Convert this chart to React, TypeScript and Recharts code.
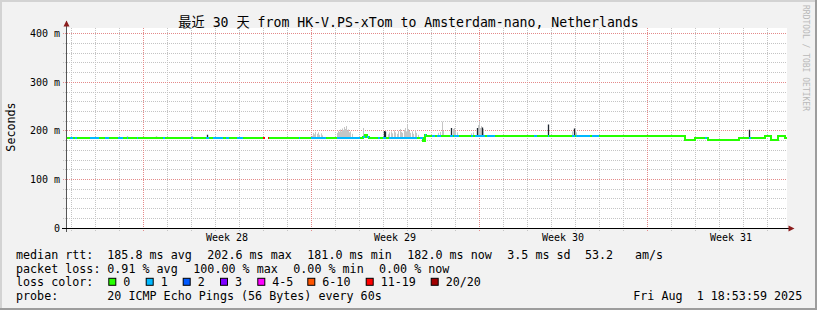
import React from 'react';
import { ComposedChart, Line, XAxis, YAxis, CartesianGrid } from 'recharts';

// ---------------- data (x = hours since the start of the 30-day window, y = ms) ----------------
const medianRuns = [
  { from: 0, to: 198, ms: 184.5 },
  { from: 201, to: 296, ms: 184.5 },
  { from: 296, to: 298, ms: 187 },
  { from: 298, to: 300, ms: 192 },
  { from: 300, to: 302, ms: 187 },
  { from: 302, to: 356, ms: 184.5 },
  { from: 356, to: 358, ms: 180 },
  { from: 358, to: 359, ms: 191 },
  { from: 359, to: 618, ms: 188.5 },
  { from: 618, to: 628, ms: 181.5 },
  { from: 628, to: 641, ms: 184.5 },
  { from: 641, to: 672, ms: 181.5 },
  { from: 672, to: 698, ms: 184.5 },
  { from: 698, to: 704, ms: 188.5 },
  { from: 704, to: 711, ms: 182 },
  { from: 711, to: 718, ms: 188.5 },
  { from: 718, to: 720, ms: 184.5 },
];

const lossRuns = [
  { from: 3, to: 6, loss: '1' }, { from: 8, to: 10, loss: '1' }, { from: 23, to: 32, loss: '1' },
  { from: 38, to: 42, loss: '1' }, { from: 51, to: 56, loss: '1' }, { from: 60, to: 61, loss: '1' },
  { from: 70, to: 71, loss: '1' }, { from: 96, to: 98, loss: '1' }, { from: 124, to: 126, loss: '1' },
  { from: 139, to: 142, loss: '1' }, { from: 146, to: 156, loss: '1' }, { from: 159, to: 162, loss: '1' },
  { from: 170, to: 176, loss: '1' }, { from: 196, to: 198, loss: '11-19' }, { from: 201, to: 202, loss: '11-19' },
  { from: 232, to: 233, loss: '1' }, { from: 244, to: 259, loss: '1' }, { from: 270, to: 293, loss: '1' },
  { from: 296, to: 298, loss: '1' }, { from: 300, to: 302, loss: '1' }, { from: 311, to: 313, loss: '1' },
  { from: 316, to: 319, loss: '1' }, { from: 322, to: 350, loss: '1' }, { from: 353, to: 356, loss: '1' },
  { from: 358, to: 359, loss: '1' }, { from: 365, to: 368, loss: '1' }, { from: 370, to: 374, loss: '1' },
  { from: 383, to: 386, loss: '1' }, { from: 387, to: 392, loss: '1' }, { from: 404, to: 406, loss: '1' },
  { from: 408, to: 418, loss: '1' }, { from: 420, to: 428, loss: '1' }, { from: 467, to: 470, loss: '1' },
  { from: 481, to: 482, loss: '1' }, { from: 505, to: 508, loss: '1' }, { from: 509, to: 523, loss: '1' },
  { from: 525, to: 532, loss: '1' }, { from: 638, to: 640, loss: '1' }, { from: 682, to: 684, loss: '1' },
];

const smokeHours = [
  245, 246, 247, 248, 250, 251, 252, 254, 255,
  270, 271, 272, 273, 274, 275, 276, 277, 278, 279, 280, 281, 282, 283, 285,
  296,
  321, 322, 324, 325, 327, 328, 330, 331, 333, 334, 335, 337, 338, 339, 340, 341, 342, 343, 345, 346, 348, 349, 351,
  371, 373, 375, 376,
  386, 387, 388, 390,
  404, 406,
  411, 412, 413, 414, 416,
  505, 508, 509,
];
const smokeTops = [
  190, 196, 193, 198, 194, 197, 192, 195, 191,
  196, 200, 198, 203, 199, 205, 202, 208, 204, 210, 201, 203, 197, 199, 194,
  206,
  193, 197, 199, 195, 201, 197, 194, 200, 204, 198, 196, 202, 206, 199, 212, 204, 200, 196, 199, 194, 201, 196, 192,
  196, 198, 219, 200,
  204, 206, 200, 197,
  195, 197,
  212, 218, 206, 210, 204,
  199, 203, 197,
];

const spikeHours = [60, 89, 125, 140, 297, 317, 318, 384, 410, 415, 481, 507, 682];
const spikeTops = [188, 188, 188, 192, 191, 200, 199, 206, 206, 207, 213, 205, 202.6];

const yTickValues = [0, 20, 40, 60, 80, 100, 120, 140, 160, 180, 200, 220, 240, 260, 280, 300, 320, 340, 360, 380, 400];
const yLabelValues = [0, 100, 200, 300, 400];
const yLabelTexts = ['0', '100 m', '200 m', '300 m', '400 m'];
const dayStartHours = [4, 28, 52, 76, 100, 124, 148, 172, 196, 220, 244, 268, 292, 316, 340, 364, 388, 412, 436, 460, 484, 508, 532, 556, 580, 604, 628, 652, 676, 700];
const weekStartHours = [76, 244, 412, 580];
const weekCenterHours = [160, 328, 496, 664];
const weekLabels = ['Week 28', 'Week 29', 'Week 30', 'Week 31'];

const titleText = '最近 30 天 from HK-V.PS-xTom to Amsterdam-nano, Netherlands';
const rttStats = ['185.8 ms avg', '202.6 ms max', '181.0 ms min', '182.0 ms now', '3.5 ms sd', '53.2', 'am/s'];
const lossStats = ['0.91 % avg', '100.00 % max', '0.00 % min', '0.00 % now'];
const lossClasses = ['0', '1', '2', '3', '4-5', '6-10', '11-19', '20/20'];
const probeText = '20 ICMP Echo Pings (56 Bytes) every 60s';
const dateText = 'Fri Aug  1 18:53:59 2025';

// ---------------- styles / layout ----------------
const W = 817;
const H = 310;
const MARGIN = { top: 28, right: 30, bottom: 52, left: 0 };
const Y_AXIS_W = 67;
const X_AXIS_H = 30;
const PLOT_L = MARGIN.left + Y_AXIS_W;
const PLOT_R = W - MARGIN.right;
const PLOT_B = H - MARGIN.bottom - X_AXIS_H;
const MONO = "'DejaVu Sans Mono', 'Noto Sans CJK SC', monospace";
const MINOR = '#c4c4c4';
const MAJOR = '#e48a8a';
const ARROW = '#8b1d1d';
const SMOKE = '#c6c6c6';
const SPIKE = '#1e2630';
const LOSS_COLORS: Record<string, string> = {
  '0': '#26ff00', '1': '#00b8ff', '2': '#0059ff', '3': '#7e00ff',
  '4-5': '#ff00ff', '6-10': '#ff5500', '11-19': '#ff0000', '20/20': '#a10000',
};
const RTT_X = [107.3, 207.3, 307.3, 407.3, 507.3, 585, 635];
const LOSS_X = [107.3, 193.3, 293.3, 379];
const SWATCH_X = [108.3, 145.7, 182.7, 220, 257.3, 307.3, 365.7, 430.7];
const ROW_Y = [258.5, 272.5, 286.3, 300];

// ---------------- builders ----------------
type Run = { from: number; to: number; ms: number };
type Pt = { h: number; v: number | null };

const medianAt = (h: number): number => {
  const r = medianRuns.find((m) => m.from <= h && h < m.to) || medianRuns[medianRuns.length - 1];
  return r.ms;
};

const runLinePoints = (runs: Run[]): Pt[] => {
  const pts: Pt[] = [];
  runs.forEach((r, i) => {
    const prev = runs[i - 1];
    if (prev && prev.to !== r.from) pts.push({ h: prev.to, v: null });
    pts.push({ h: r.from, v: r.ms }, { h: r.to, v: r.ms });
  });
  return pts;
};

const spikePoints = (hours: number[], tops: number[]): Pt[] =>
  hours.flatMap((h, i) => [
    { h: h + 0.5, v: medianAt(h) },
    { h: h + 0.5, v: tops[i] },
    { h: h + 0.5, v: null },
  ]);

const medianLine = runLinePoints(medianRuns);
const lossLines = lossClasses
  .filter((c) => c !== '0')
  .map((c) => ({
    cls: c,
    pts: runLinePoints(
      lossRuns.filter((l) => l.loss === c).map((l) => ({ from: l.from, to: l.to, ms: medianAt(l.from) }))
    ),
  }))
  .filter((l) => l.pts.length > 0);
const smokeLine = spikePoints(smokeHours, smokeTops);
const spikeLine = spikePoints(spikeHours, spikeTops);
const xTicks = [...dayStartHours, ...weekCenterHours].sort((a, b) => a - b);
const minorY = yTickValues.filter((v) => v > 0 && !yLabelValues.includes(v));
const majorY = yLabelValues.filter((v) => v > 0);
const minorX = dayStartHours.filter((h) => !weekStartHours.includes(h));

// ---------------- ticks ----------------
const XTick = (props: any) => {
  const { x, y, payload } = props;
  const v = payload.value;
  const wi = weekCenterHours.indexOf(v);
  if (wi >= 0) {
    return (
      <text x={x} y={y + 9} textAnchor="middle" fontFamily={MONO} fontSize={10} fill="#000">
        {weekLabels[wi]}
      </text>
    );
  }
  const major = weekStartHours.includes(v);
  return <line x1={x} x2={x} y1={y - 4} y2={y} stroke={major ? MAJOR : MINOR} strokeDasharray="1 1" shapeRendering="crispEdges" />;
};

const YTick = (props: any) => {
  const { x, y, payload } = props;
  const v = payload.value;
  const li = yLabelValues.indexOf(v);
  const major = li >= 0;
  return (
    <g>
      {v > 0 && (
        <line x1={x + 3} x2={x + 7} y1={y} y2={y} stroke={major ? MAJOR : MINOR} strokeDasharray="1 1" shapeRendering="crispEdges" />
      )}
      {major && (
        <text x={x} y={y + 3.5} textAnchor="end" fontFamily={MONO} fontSize={10} fill="#000" style={{ whiteSpace: 'pre' }}>
          {yLabelTexts[li]}
        </text>
      )}
    </g>
  );
};

const txt = (x: number, y: number, s: string, key?: string, extra: any = {}) => (
  <text key={key} x={x} y={y} fontFamily={MONO} fontSize={11.7} fill="#000" style={{ whiteSpace: 'pre' }} {...extra}>
    {s}
  </text>
);

export default function App() {
  return (
    <div style={{ position: 'absolute', left: 0, top: 0, width: W, height: H, background: '#f2f2f2' }}>
      <ComposedChart width={W} height={H} margin={MARGIN}>
        <CartesianGrid fill="#ffffff" horizontalValues={minorY} verticalValues={minorX} stroke={MINOR} strokeDasharray="1 1" shapeRendering="crispEdges" />
        <CartesianGrid fill="none" horizontalValues={majorY} verticalValues={weekStartHours} stroke={MAJOR} strokeDasharray="1 1" shapeRendering="crispEdges" />
        <XAxis
          type="number"
          dataKey="h"
          domain={[0, 720]}
          allowDataOverflow
          ticks={xTicks}
          interval={0}
          tick={<XTick />}
          tickLine={false}
          axisLine={false}
          tickSize={4}
          tickMargin={0}
          height={X_AXIS_H}
        />
        <YAxis
          type="number"
          dataKey="v"
          domain={[0, 412]}
          allowDataOverflow
          ticks={yTickValues}
          interval={0}
          tick={<YTick />}
          tickLine={false}
          axisLine={false}
          tickSize={4}
          tickMargin={3}
          width={Y_AXIS_W}
        />
        <Line data={smokeLine} dataKey="v" stroke={SMOKE} strokeWidth={1} dot={false} activeDot={false} isAnimationActive={false} />
        <Line data={spikeLine} dataKey="v" stroke={SPIKE} strokeWidth={1.3} dot={false} activeDot={false} isAnimationActive={false} />
        <Line data={medianLine} dataKey="v" stroke={LOSS_COLORS['0']} strokeWidth={2} shapeRendering="crispEdges" dot={false} activeDot={false} isAnimationActive={false} />
        {lossLines.map((l) => (
          <Line key={l.cls} data={l.pts} dataKey="v" stroke={LOSS_COLORS[l.cls]} strokeWidth={2} shapeRendering="crispEdges" dot={false} activeDot={false} isAnimationActive={false} />
        ))}
      </ComposedChart>
      <svg width={W} height={H} style={{ position: 'absolute', left: 0, top: 0, pointerEvents: 'none' }}>
        {/* frame */}
        <rect x={0} y={0} width={W} height={2} fill="#d3d3d3" />
        <rect x={0} y={0} width={2} height={H} fill="#d3d3d3" />
        <rect x={0} y={H - 2} width={W} height={2} fill="#9d9d9d" />
        <rect x={W - 2} y={0} width={2} height={H} fill="#9d9d9d" />
        {/* title */}
        <text x={408.5} y={26.5} textAnchor="middle" fontFamily={MONO} fontSize={13.2} fill="#000" style={{ whiteSpace: 'pre' }}>
          {titleText}
        </text>
        {/* watermark */}
        <text transform="translate(802.5,5) rotate(90)" fontFamily={MONO} fontSize={8} fill="#b9b9b9">
          RRDTOOL / TOBI OETIKER
        </text>
        {/* y title */}
        <text transform="translate(15,127) rotate(-90)" textAnchor="middle" fontFamily={MONO} fontSize={11.7} fill="#000">
          Seconds
        </text>
        {/* axes */}
        <line x1={PLOT_L - 0.5} x2={PLOT_L - 0.5} y1={21} y2={PLOT_B + 4} stroke="#555" strokeWidth={1} />
        <line x1={PLOT_L - 5} x2={PLOT_R + 2} y1={PLOT_B + 0.5} y2={PLOT_B + 0.5} stroke="#000" strokeWidth={1} />
        <polygon points={`${PLOT_L - 3.5},26.5 ${PLOT_L + 2.5},26.5 ${PLOT_L - 0.5},20.5`} fill={ARROW} />
        <polygon points={`${PLOT_R + 1.5},${PLOT_B - 2.5} ${PLOT_R + 1.5},${PLOT_B + 3.5} ${PLOT_R + 7.5},${PLOT_B + 0.5}`} fill={ARROW} />
        {/* legend */}
        {txt(16, ROW_Y[0], 'median rtt:')}
        {rttStats.map((s, i) => txt(RTT_X[i], ROW_Y[0], s, 'r' + i))}
        {txt(16, ROW_Y[1], 'packet loss:')}
        {lossStats.map((s, i) => txt(LOSS_X[i], ROW_Y[1], s, 'l' + i))}
        {txt(16, ROW_Y[2], 'loss color:')}
        {lossClasses.map((c, i) => (
          <g key={'c' + i}>
            <rect x={SWATCH_X[i] + 0.5} y={ROW_Y[2] - 8} width={7} height={7} fill={LOSS_COLORS[c]} stroke="#000" strokeWidth={1} />
            {txt(SWATCH_X[i] + 15, ROW_Y[2], c)}
          </g>
        ))}
        {txt(16, ROW_Y[3], 'probe:')}
        {txt(107.3, ROW_Y[3], probeText)}
        {txt(633.3, ROW_Y[3], dateText)}
      </svg>
    </div>
  );
}
